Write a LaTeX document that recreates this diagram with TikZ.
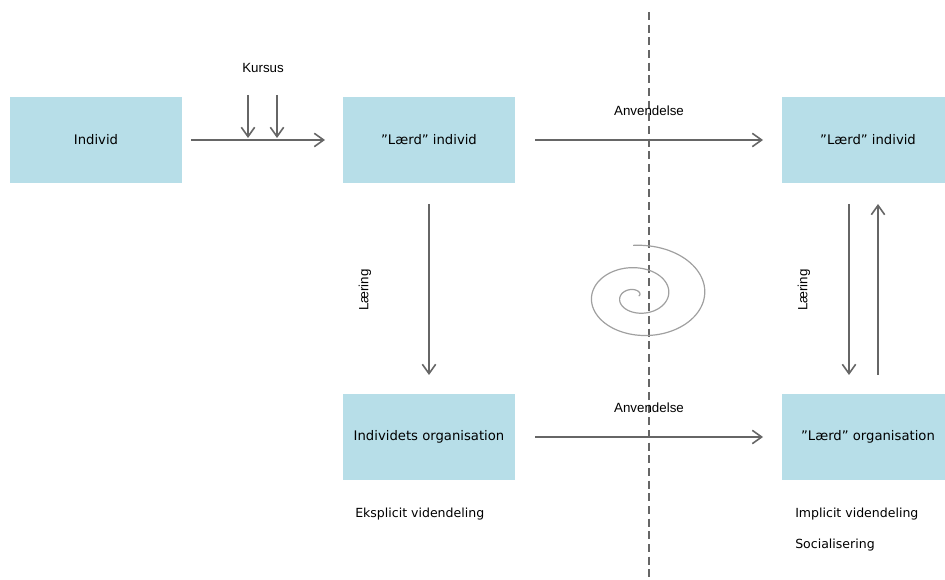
\documentclass[tikz,border=0pt]{standalone}
\usepackage{fontspec}
\setmainfont{DejaVu Sans}
\newfontfamily\labelfont{Liberation Sans}
\usetikzlibrary{arrows.meta}
\definecolor{boxblue}{HTML}{B7DEE8}
\definecolor{arrowgray}{HTML}{666666}
\definecolor{spiralgray}{HTML}{A0A0A0}
\begin{document}
\begin{tikzpicture}[x=0.75pt,y=-0.75pt,
  box/.style={fill=boxblue, minimum width=129pt, minimum height=64.5pt, inner sep=0pt,
    font=\fontsize{9.9}{12}\selectfont},
  flow/.style={draw=arrowgray, line width=1.2pt, -{Straight Barb[length=7pt,width=10pt]}},
  lbl/.style={font=\labelfont\fontsize{10}{12}\selectfont, inner sep=0pt},
  note/.style={font=\fontsize{9.4}{11}\selectfont, anchor=west, inner sep=0pt}]
\useasboundingbox (0,0) rectangle (945,580);

% boxes
\node[box] (ind) at (96,140) {Individ};
\node[box] (li1) at (429,140) {”Lærd” individ};
\node[box] (li2) at (868,140) {”Lærd” individ};
\node[box] (io) at (429,437) {Individets organisation};
\node[box] (lo) at (868,437) {”Lærd” organisation};

% helper coordinates for arrow ends
\coordinate (a1s) at (191,140);  \coordinate (a1e) at (325,140);
\coordinate (k1s) at (248,95);   \coordinate (k1e) at (248,138);
\coordinate (k2s) at (277,95);   \coordinate (k2e) at (277,138);
\coordinate (a2s) at (535,140);  \coordinate (a2e) at (763,140);
\coordinate (a3s) at (429,204);  \coordinate (a3e) at (429,375);
\coordinate (a4s) at (535,437);  \coordinate (a4e) at (763,437);
\coordinate (a5s) at (849,204);  \coordinate (a5e) at (849,375);
\coordinate (a6s) at (878,375);  \coordinate (a6e) at (878,204);
\coordinate (dtop) at (649,12);  \coordinate (dbot) at (649,580);

% dashed divider
\draw[arrowgray, line width=0.9pt, dash pattern=on 6pt off 3.5pt] (dtop) -- (dbot);

% arrows
\draw[flow] (a1s) -- (a1e);
\draw[flow] (k1s) -- (k1e);
\draw[flow] (k2s) -- (k2e);
\draw[flow] (a2s) -- (a2e);
\draw[flow] (a3s) -- (a3e);
\draw[flow] (a4s) -- (a4e);
\draw[flow] (a5s) -- (a5e);
\draw[flow] (a6s) -- (a6e);

% spiral with slowly drifting centre
\draw[spiralgray, line width=0.9pt] plot[domain=10:818, samples=240, variable=\t, smooth]
  ({628+0.018*\t+10*exp(-\t/250)+0.0875*\t*cos(\t)}, {296-0.0625*\t*sin(\t)});

% labels
\node[lbl] (kursus) at (263,68) {Kursus};
\node[lbl] (anv1) at (649,111) {Anvendelse};
\node[lbl] (anv2) at (649,408) {Anvendelse};
\node[lbl, rotate=90] (laer1) at (365,290) {Læring};
\node[lbl, rotate=90] (laer2) at (804,290) {Læring};

\node[note] (eks) at (355,514) {Eksplicit videndeling};
\node[note] (imp) at (795,514) {Implicit videndeling};
\node[note] (soc) at (795,545) {Socialisering};
\end{tikzpicture}
\end{document}
